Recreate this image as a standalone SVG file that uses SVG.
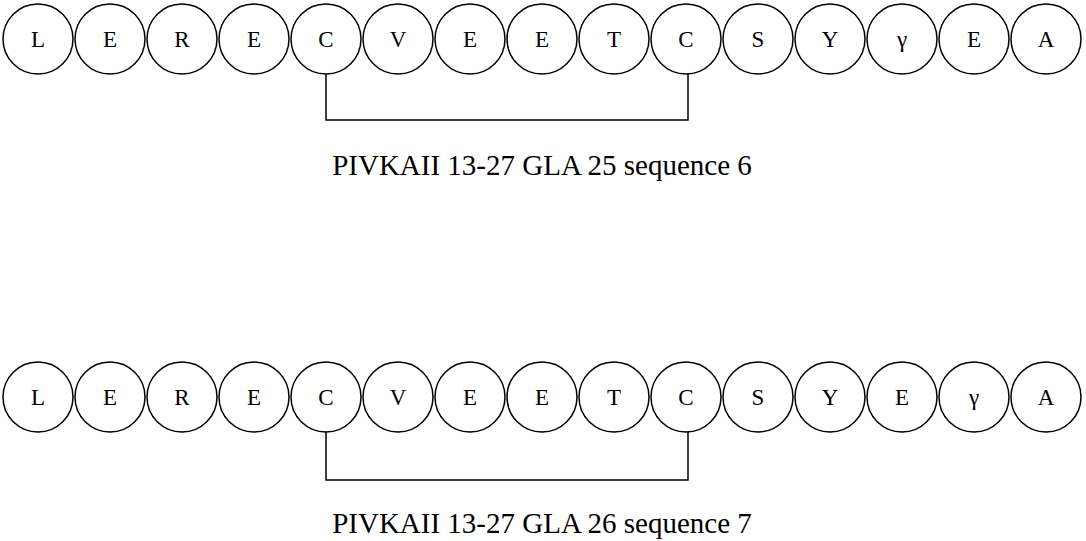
<svg xmlns="http://www.w3.org/2000/svg" width="1086" height="541" viewBox="0 0 1086 541">
<style>
circle{fill:#fff;stroke:#000;stroke-width:1.5}
text{font-family:"Liberation Serif",serif;font-size:23px;fill:#000;text-anchor:middle}
.c{dominant-baseline:central}
.l{font-size:29px}
path{fill:none;stroke:#000;stroke-width:1.5}
</style>
<rect width="1086" height="541" fill="#fff"/>
<g id="connectors">
<path d="M326,74 V120 H688 V74"/>
<path d="M326,432 V480 H688 V432"/>
</g>
<g id="row1">
<g id="n1_1"><circle cx="38" cy="39" r="35"/><text class="c" x="38" y="39">L</text></g>
<g id="n1_2"><circle cx="110" cy="39" r="35"/><text class="c" x="110" y="39">E</text></g>
<g id="n1_3"><circle cx="182" cy="39" r="35"/><text class="c" x="182" y="39">R</text></g>
<g id="n1_4"><circle cx="254" cy="39" r="35"/><text class="c" x="254" y="39">E</text></g>
<g id="n1_5"><circle cx="326" cy="39" r="35"/><text class="c" x="326" y="39">C</text></g>
<g id="n1_6"><circle cx="398" cy="39" r="35"/><text class="c" x="398" y="39">V</text></g>
<g id="n1_7"><circle cx="470" cy="39" r="35"/><text class="c" x="470" y="39">E</text></g>
<g id="n1_8"><circle cx="542" cy="39" r="35"/><text class="c" x="542" y="39">E</text></g>
<g id="n1_9"><circle cx="614" cy="39" r="35"/><text class="c" x="614" y="39">T</text></g>
<g id="n1_10"><circle cx="686" cy="39" r="35"/><text class="c" x="686" y="39">C</text></g>
<g id="n1_11"><circle cx="758" cy="39" r="35"/><text class="c" x="758" y="39">S</text></g>
<g id="n1_12"><circle cx="830" cy="39" r="35"/><text class="c" x="830" y="39">Y</text></g>
<g id="n1_13"><circle cx="902" cy="39" r="35"/><text class="c" x="902" y="39">γ</text></g>
<g id="n1_14"><circle cx="974" cy="39" r="35"/><text class="c" x="974" y="39">E</text></g>
<g id="n1_15"><circle cx="1046" cy="39" r="35"/><text class="c" x="1046" y="39">A</text></g>
</g>
<text class="l" x="542" y="175">PIVKAII 13-27 GLA 25 sequence 6</text>
<g id="row2">
<g id="n2_1"><circle cx="38" cy="397" r="35"/><text class="c" x="38" y="397">L</text></g>
<g id="n2_2"><circle cx="110" cy="397" r="35"/><text class="c" x="110" y="397">E</text></g>
<g id="n2_3"><circle cx="182" cy="397" r="35"/><text class="c" x="182" y="397">R</text></g>
<g id="n2_4"><circle cx="254" cy="397" r="35"/><text class="c" x="254" y="397">E</text></g>
<g id="n2_5"><circle cx="326" cy="397" r="35"/><text class="c" x="326" y="397">C</text></g>
<g id="n2_6"><circle cx="398" cy="397" r="35"/><text class="c" x="398" y="397">V</text></g>
<g id="n2_7"><circle cx="470" cy="397" r="35"/><text class="c" x="470" y="397">E</text></g>
<g id="n2_8"><circle cx="542" cy="397" r="35"/><text class="c" x="542" y="397">E</text></g>
<g id="n2_9"><circle cx="614" cy="397" r="35"/><text class="c" x="614" y="397">T</text></g>
<g id="n2_10"><circle cx="686" cy="397" r="35"/><text class="c" x="686" y="397">C</text></g>
<g id="n2_11"><circle cx="758" cy="397" r="35"/><text class="c" x="758" y="397">S</text></g>
<g id="n2_12"><circle cx="830" cy="397" r="35"/><text class="c" x="830" y="397">Y</text></g>
<g id="n2_13"><circle cx="902" cy="397" r="35"/><text class="c" x="902" y="397">E</text></g>
<g id="n2_14"><circle cx="974" cy="397" r="35"/><text class="c" x="974" y="397">γ</text></g>
<g id="n2_15"><circle cx="1046" cy="397" r="35"/><text class="c" x="1046" y="397">A</text></g>
</g>
<text class="l" x="542" y="533">PIVKAII 13-27 GLA 26 sequence 7</text>
</svg>
